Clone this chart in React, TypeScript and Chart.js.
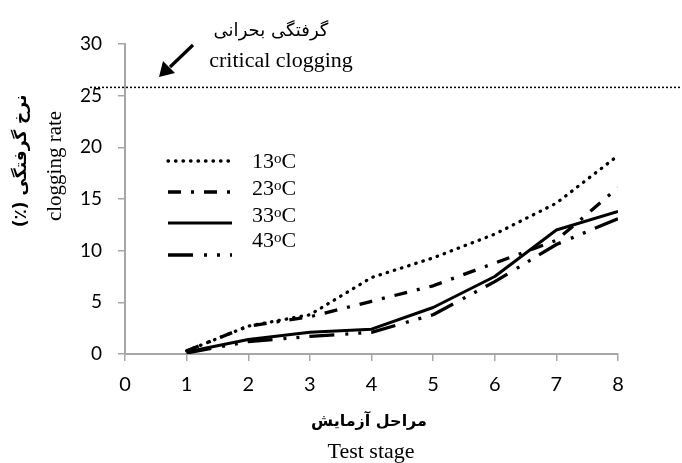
import React, { useEffect, useRef } from "react";
import { Chart, registerables } from "chart.js";

Chart.register(...registerables);

// ---- data ----
const stages = [1, 2, 3, 4, 5, 6, 7, 8];
const seriesNames = ["13", "23", "33", "43"];
const rate13 = [0.3, 2.7, 3.8, 7.4, 9.3, 11.6, 14.6, 19.2];
const rate23 = [0.3, 2.7, 3.6, 5.1, 6.6, 8.8, 11.0, 16.1];
const rate33 = [0.2, 1.4, 2.1, 2.4, 4.5, 7.5, 12.0, 13.8];
const rate43 = [0.1, 1.2, 1.7, 2.1, 3.8, 7.0, 10.6, 13.1];
const criticalLevel = 25.8;
const xMin = 0;
const xMax = 8;
const yMin = 0;
const yMax = 30;
const yStep = 5;

const xTitleFa = "مراحل آزمایش";
const xTitleEn = "Test stage";
const yTitleFa = "نرخ گرفتگی (٪)";
const yTitleEn = "clogging rate";
const criticalFa = "گرفتگی بحرانی";
const criticalEn = "critical clogging";

const SERIF = "'Liberation Serif', 'Times New Roman', serif";
const FA = "'DejaVu Sans', sans-serif";
const TICKFONT = "Lato";
const AXIS_GREY = "#a6a6a6";

const series = [rate13, rate23, rate33, rate43];
const styles = [
  { dash: [0.5, 7], width: 3.3, cap: "round" },
  { dash: [13, 10, 3, 10], width: 3.3, cap: "butt" },
  { dash: [], width: 3.0, cap: "butt" },
  { dash: [25, 11, 3, 10, 3, 10], width: 3.3, cap: "butt" },
];

const legendLineY = [161, 192, 223, 255];
const legendTextBase = [168, 195, 222, 247];

const overlay = {
  id: "overlay",
  afterDraw(chart: any) {
    const { ctx, chartArea, scales } = chart;
    ctx.save();
    // critical line
    const cy = scales.y.getPixelForValue(criticalLevel);
    ctx.strokeStyle = "#000";
    ctx.lineWidth = 1.5;
    ctx.setLineDash([2, 2]);
    ctx.beginPath();
    ctx.moveTo(chartArea.left - 35, cy);
    ctx.lineTo(chart.width, cy);
    ctx.stroke();
    ctx.setLineDash([]);

    // annotation texts
    ctx.fillStyle = "#000";
    ctx.textAlign = "center";
    ctx.textBaseline = "alphabetic";
    ctx.direction = "rtl";
    ctx.font = `18px ${FA}`;
    ctx.fillText(criticalFa, 271, 36);
    ctx.direction = "ltr";
    ctx.font = `22px ${SERIF}`;
    ctx.fillText(criticalEn, 281, 67);

    // arrow
    ctx.lineWidth = 3.2;
    ctx.beginPath();
    ctx.moveTo(193, 45);
    ctx.lineTo(170, 67);
    ctx.stroke();
    ctx.beginPath();
    ctx.moveTo(159, 77);
    ctx.lineTo(163, 61);
    ctx.lineTo(175, 73);
    ctx.closePath();
    ctx.fill();

    // legend
    chart.data.datasets.forEach((ds: any, i: number) => {
      ctx.save();
      ctx.strokeStyle = "#000";
      ctx.lineWidth = ds.borderWidth;
      ctx.lineCap = ds.borderCapStyle;
      ctx.setLineDash(ds.borderDash || []);
      ctx.beginPath();
      ctx.moveTo(168, legendLineY[i]);
      ctx.lineTo(232, legendLineY[i]);
      ctx.stroke();
      ctx.restore();
      const base = legendTextBase[i];
      let x = 252;
      ctx.textAlign = "left";
      ctx.font = `22px ${SERIF}`;
      ctx.fillText(ds.label, x, base);
      x += ctx.measureText(ds.label).width;
      ctx.font = `15px ${SERIF}`;
      ctx.fillText("o", x, base - 5);
      x += ctx.measureText("o").width;
      ctx.font = `22px ${SERIF}`;
      ctx.fillText("C", x, base);
    });

    // axis titles
    ctx.textAlign = "center";
    ctx.direction = "rtl";
    ctx.font = `bold 16px ${FA}`;
    ctx.fillText(xTitleFa, 369, 426);
    ctx.direction = "ltr";
    ctx.font = `22px ${SERIF}`;
    ctx.fillText(xTitleEn, 371, 458);

    ctx.save();
    ctx.translate(22, 161);
    ctx.rotate(-Math.PI / 2);
    ctx.textBaseline = "middle";
    ctx.direction = "rtl";
    ctx.font = `bold 17px ${FA}`;
    ctx.fillText(yTitleFa, 0, 0);
    ctx.restore();

    ctx.save();
    ctx.translate(55, 166);
    ctx.rotate(-Math.PI / 2);
    ctx.textBaseline = "middle";
    ctx.direction = "ltr";
    ctx.font = `21px ${SERIF}`;
    ctx.fillText(yTitleEn, 0, 0);
    ctx.restore();

    ctx.restore();
  },
};

export default function App() {
  const ref = useRef<HTMLCanvasElement>(null);
  useEffect(() => {
    if (!ref.current) return;
    const chart = new Chart(ref.current, {
      type: "line",
      data: {
        datasets: series.map((vals, i) => ({
          label: seriesNames[i],
          data: vals.map((v, j) => ({ x: stages[j], y: v })),
          borderColor: "#000",
          backgroundColor: "#000",
          borderWidth: styles[i].width,
          borderDash: styles[i].dash,
          borderCapStyle: styles[i].cap as any,
          borderJoinStyle: "round",
          pointRadius: 0,
          tension: 0,
          fill: false,
        })),
      },
      options: {
        responsive: false,
        animation: false,
        layout: { padding: { top: 44, right: 64, left: 0, bottom: 0 } },
        plugins: {
          legend: { display: false },
          tooltip: { enabled: false },
        },
        scales: {
          x: {
            type: "linear",
            min: xMin,
            max: xMax,
            ticks: {
              stepSize: 1,
              color: "#000",
              font: { family: TICKFONT, size: 20 },
              padding: 12,
            },
            grid: {
              display: true,
              drawOnChartArea: false,
              drawTicks: true,
              tickLength: 7,
              color: AXIS_GREY,
              lineWidth: 1.5,
            },
            border: { display: true, color: AXIS_GREY, width: 2 },
            afterFit: (s: any) => {
              s.height = 109;
            },
          },
          y: {
            min: yMin,
            max: yMax,
            ticks: {
              stepSize: yStep,
              color: "#000",
              font: { family: TICKFONT, size: 19 },
              padding: 16,
            },
            grid: {
              display: true,
              drawOnChartArea: false,
              drawTicks: true,
              tickLength: 7,
              color: AXIS_GREY,
              lineWidth: 1.5,
            },
            border: { display: true, color: AXIS_GREY, width: 2 },
            afterFit: (s: any) => {
              s.width = 125;
            },
          },
        },
      },
      plugins: [overlay],
    });
    return () => chart.destroy();
  }, []);
  return (
    <div style={{ position: "fixed", left: 0, top: 0, width: 682, height: 463, background: "#fff" }}>
      <canvas ref={ref} width={682} height={463} style={{ display: "block" }} />
    </div>
  );
}
